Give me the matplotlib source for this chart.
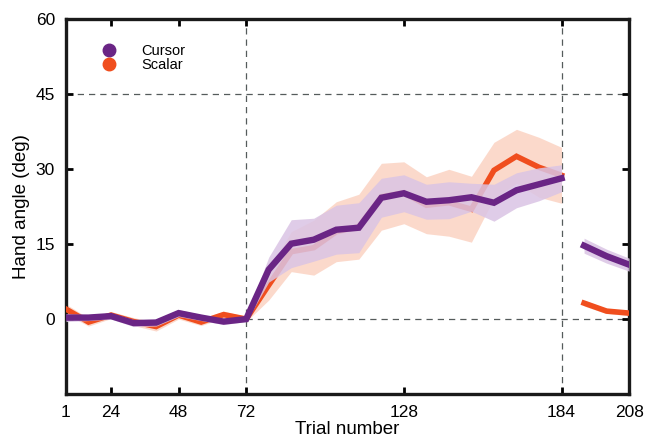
import numpy as np
import matplotlib
matplotlib.use('Agg')
import matplotlib.pyplot as plt
from matplotlib.lines import Line2D

plt.rcParams['font.family'] = ['Liberation Sans', 'DejaVu Sans']

# Ciclos de 8 ensayos (1..26) y etiquetas en numero de ensayo
tick_cycles = [1, 3, 6, 9, 16, 23, 26]
tick_labels = ['1', '24', '48', '72', '128', '184', '208']

# Fase de linea base + rotacion (ciclos 1-23), lavado (ciclos 24-26)
cyc_main = np.arange(1, 24)
cyc_wash = np.arange(24, 27)

cursor_main = [0.3, 0.3, 0.6, -0.8, -0.7, 1.2, 0.3, -0.5, 0.0,
               9.9, 15.1, 15.9, 17.9, 18.3, 24.3, 25.2, 23.5, 23.8, 24.4, 23.3, 25.8, 27.0, 28.2]
cursor_main_sem = [0.8, 0.6, 0.6, 0.7, 0.7, 0.7, 0.6, 0.6, 0.5,
                   2.5, 4.8, 4.3, 4.9, 5.0, 3.9, 3.7, 3.5, 3.7, 2.8, 3.7, 3.5, 3.3, 2.7]
scalar_main = [2.0, -0.6, 0.8, -0.5, -1.5, 0.8, -0.6, 0.9, 0.0,
               6.8, 13.5, 14.3, 17.5, 18.5, 24.5, 25.3, 22.8, 23.3, 22.0, 29.8, 32.6, 30.4, 28.8]
scalar_main_sem = [1.0, 0.8, 0.7, 0.8, 0.9, 0.8, 0.7, 0.7, 0.5,
                   3.0, 4.0, 5.5, 6.0, 6.5, 6.7, 6.2, 5.7, 6.7, 6.6, 5.6, 5.4, 6.0, 5.6]

cursor_wash = [14.7, 12.6, 10.9]
cursor_wash_sem = [1.5, 1.4, 1.3]
scalar_wash = [3.2, 1.6, 1.2]
scalar_wash_sem = [0.6, 0.5, 0.5]

purple = '#6a2585'
orange = '#f04e1e'
purple_fill = '#dac4e4'
orange_fill = '#fbd0bf'

fig = plt.figure(figsize=(6.56, 4.47), dpi=100)
ax = fig.add_axes([0.1006, 0.1186, 0.8584, 0.8378])

# lineas de referencia
dash = dict(color='#555b5b', lw=0.9, ls=(0, (5, 4)), zorder=1)
ax.axhline(45, **dash)
ax.plot([9, 26], [0, 0], **dash)
ax.axvline(9, **dash)
ax.axvline(23, **dash)

for cyc, s, s_sem, c, c_sem in [(cyc_main, scalar_main, scalar_main_sem, cursor_main, cursor_main_sem),
                                (cyc_wash, scalar_wash, scalar_wash_sem, cursor_wash, cursor_wash_sem)]:
    s = np.array(s); s_sem = np.array(s_sem)
    c = np.array(c); c_sem = np.array(c_sem)
    ax.fill_between(cyc, s - s_sem, s + s_sem, color=orange_fill, alpha=0.8, lw=0, zorder=2)
    ax.plot(cyc, s, color=orange, lw=4.0, solid_joinstyle='miter', zorder=3)
    ax.fill_between(cyc, c - c_sem, c + c_sem, color=purple_fill, alpha=0.85, lw=0, zorder=4)
    ax.plot(cyc, c, color=purple, lw=4.6, solid_joinstyle='miter', zorder=5)

ax.set_xlim(1, 26)
ax.set_ylim(-15, 60)
ax.set_xticks(tick_cycles)
ax.set_xticklabels(tick_labels)
ax.set_yticks([0, 15, 30, 45, 60])
ax.tick_params(direction='in', length=5, width=2, labelsize=12.5, top=True, right=True,
               labeltop=False, labelright=False, pad=8)
for sp in ax.spines.values():
    sp.set_linewidth(2.4)
    sp.set_color('#1a1a1a')

ax.set_xlabel('Trial number', fontsize=13.5, labelpad=1)
ax.set_ylabel('Hand angle (deg)', fontsize=13.5, labelpad=4)

handles = [Line2D([], [], ls='none', marker='o', ms=9, color=purple, label='Cursor'),
           Line2D([], [], ls='none', marker='o', ms=9, color=orange, label='Scalar')]
ax.legend(handles=handles, loc='upper left', bbox_to_anchor=(0.04, 0.95), frameon=False,
          fontsize=10.5, handletextpad=1.2, labelspacing=0.0, borderaxespad=0)

fig.savefig('out.png', dpi=100)
